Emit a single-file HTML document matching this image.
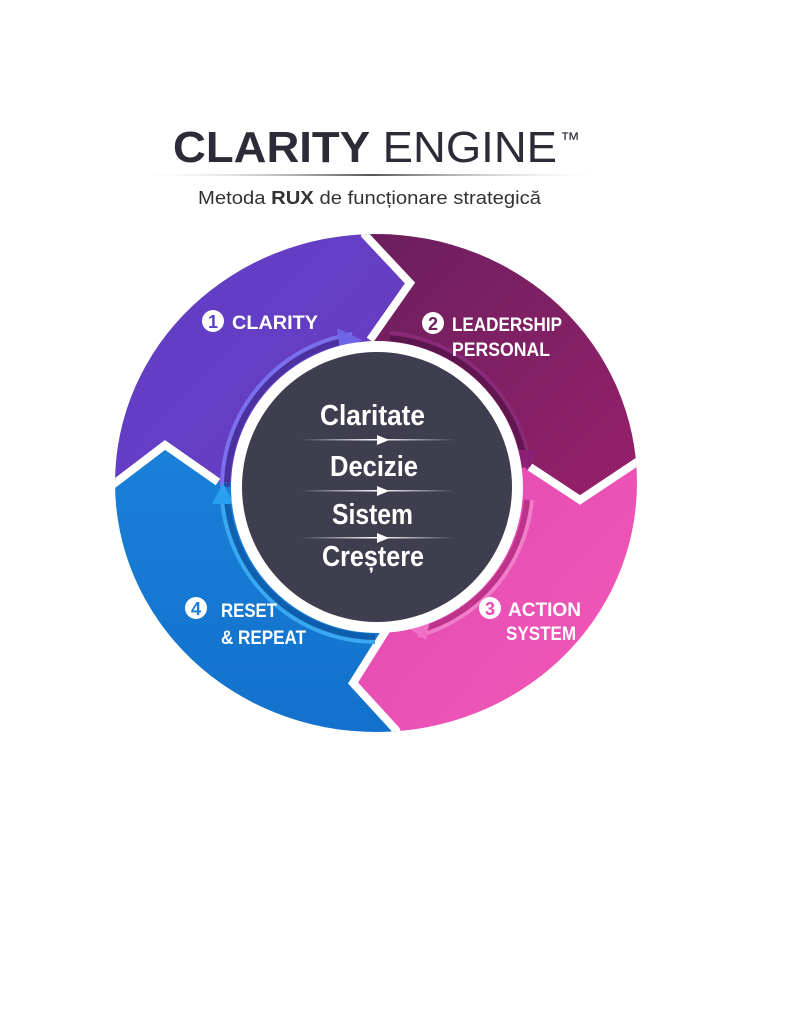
<!DOCTYPE html>
<html><head><meta charset="utf-8"><style>
html,body{margin:0;padding:0;background:#fff;}
svg{display:block;}
</style></head><body>
<svg width="791" height="1024" viewBox="0 0 791 1024" xmlns="http://www.w3.org/2000/svg">
<defs>
<clipPath id="oc"><ellipse cx="376" cy="483" rx="261" ry="249"/></clipPath>
<linearGradient id="g1" x1="0" y1="0" x2="1" y2="1"><stop offset="0" stop-color="#5b40c9"/><stop offset="1" stop-color="#6a3cc0"/></linearGradient>
<linearGradient id="g2" x1="0" y1="0" x2="1" y2="1"><stop offset="0" stop-color="#5e1f5a"/><stop offset="1" stop-color="#a3206e"/></linearGradient>
<linearGradient id="g3" x1="0" y1="0" x2="1" y2="1"><stop offset="0" stop-color="#e048b0"/><stop offset="1" stop-color="#fb62bd"/></linearGradient>
<linearGradient id="g4" x1="0" y1="0" x2="0" y2="1"><stop offset="0" stop-color="#1a80d8"/><stop offset="1" stop-color="#0d68c4"/></linearGradient>
<linearGradient id="ln" x1="0" x2="1"><stop offset="0" stop-color="#fff" stop-opacity="0"/><stop offset="0.5" stop-color="#555"/><stop offset="1" stop-color="#fff" stop-opacity="0"/></linearGradient>
<linearGradient id="wl" x1="0" x2="1"><stop offset="0" stop-color="#fff" stop-opacity="0"/><stop offset="0.5" stop-color="#fff"/><stop offset="1" stop-color="#fff" stop-opacity="0"/></linearGradient>
</defs>

<text x="173" y="162" font-family="Liberation Sans, sans-serif" font-size="44" fill="#2d2b38" textLength="384" lengthAdjust="spacingAndGlyphs"><tspan font-weight="bold">CLARITY</tspan> ENGINE</text>
<text x="560" y="146" font-family="Liberation Sans, sans-serif" font-size="20" fill="#2d2b38">™</text>
<rect x="130" y="174" width="482" height="2" fill="url(#ln)"/>
<text x="198" y="204" font-family="Liberation Sans, sans-serif" font-size="18" fill="#333" textLength="343" lengthAdjust="spacingAndGlyphs">Metoda <tspan font-weight="bold">RUX</tspan> de funcționare strategică</text>

<g clip-path="url(#oc)">
<polygon fill="url(#g1)" points="377,487 218,482 165,445 115,483 40,540 0,540 0,100 355,100 355,180 365,235 410,283 370,340"/>
<polygon fill="url(#g2)" points="377,487 370,340 410,283 365,235 355,180 355,100 791,100 791,420 700,420 637,462 580,500 530,467"/>
<polygon fill="url(#g3)" points="377,487 530,467 580,500 637,462 700,420 791,420 791,900 420,900 420,790 396,730 353,683 392,621"/>
<polygon fill="url(#g4)" points="377,487 392,621 353,683 396,730 420,790 420,900 0,900 0,540 40,540 115,483 165,445 218,482"/>
<g fill="none" stroke="#fff" stroke-width="8" stroke-linejoin="miter">
<polyline points="218,482 165,445 115,483 40,540"/>
<polyline points="370,340 410,283 365,235 355,180"/>
<polyline points="530,467 580,500 637,462 700,420"/>
<polyline points="392,621 353,683 396,730 420,790"/>
</g>
</g>

<!-- inner arcs -->
<g fill="none" stroke-width="10" opacity="0.6">
<path d="M225,487 A152,152 0 0 1 352,337" stroke="#3a2a8a"/>
<path d="M390,336 A152,152 0 0 1 526,458" stroke="#4a1040"/>
<path d="M529,500 A152,152 0 0 1 418,633" stroke="#a0206e"/>
<path d="M375,639 A152,152 0 0 1 225,500" stroke="#0a4f98"/>
</g>
<g fill="none" stroke-width="4">
<path d="M222,487 A155,155 0 0 1 352,334" stroke="#7a70ee"/>
<path d="M390,333 A155,155 0 0 1 529,458" stroke="#8a2a78"/>
<path d="M532,500 A155,155 0 0 1 418,636" stroke="#f27ccc"/>
<path d="M375,642 A155,155 0 0 1 222,500" stroke="#3aa8f0"/>
</g>
<polygon points="337,328 362,340 340,352" fill="#6f63e6"/>
<polygon points="514,450 538,450 527,470" fill="#8b1f74"/>
<polygon points="430,620 405,626 426,640" fill="#f070c8"/>
<polygon points="212,504 223,483 234,504" fill="#2aa0f0"/>

<circle cx="377" cy="487" r="146" fill="#fff"/>
<circle cx="377" cy="487" r="135" fill="#3f3e4f"/>

<g font-family="Liberation Sans Narrow, Liberation Sans, sans-serif" font-weight="bold" fill="#fff">
<text x="320" y="425" font-size="29" textLength="105" lengthAdjust="spacingAndGlyphs">Claritate</text>
<text x="330" y="476" font-size="29" textLength="88" lengthAdjust="spacingAndGlyphs">Decizie</text>
<text x="332" y="524" font-size="29" textLength="81" lengthAdjust="spacingAndGlyphs">Sistem</text>
<text x="322" y="566" font-size="29" textLength="102" lengthAdjust="spacingAndGlyphs">Creștere</text>
</g>
<rect x="300" y="439" width="155" height="1.5" fill="url(#wl)"/>
<rect x="300" y="490" width="155" height="1.5" fill="url(#wl)"/>
<rect x="300" y="537" width="155" height="1.5" fill="url(#wl)"/>
<polygon points="377,435 389,440 377,445" fill="#fff"/>
<polygon points="377,486 389,491 377,496" fill="#fff"/>
<polygon points="377,533 389,538 377,543" fill="#fff"/>

<g font-family="Liberation Sans Narrow, Liberation Sans, sans-serif" font-weight="bold" fill="#fff" font-size="19">
<circle cx="213" cy="321" r="11" fill="#fff"/><text x="213" y="328" font-size="18" fill="#5b40c9" text-anchor="middle">1</text>
<text x="232" y="329" textLength="86" lengthAdjust="spacingAndGlyphs">CLARITY</text>
<circle cx="433" cy="323" r="11" fill="#fff"/><text x="433" y="330" font-size="18" fill="#6b1f5e" text-anchor="middle">2</text>
<text x="452" y="331" textLength="110" lengthAdjust="spacingAndGlyphs">LEADERSHIP</text>
<text x="452" y="356" textLength="98" lengthAdjust="spacingAndGlyphs">PERSONAL</text>
<circle cx="490" cy="608" r="11" fill="#fff"/><text x="490" y="615" font-size="18" fill="#e84cb5" text-anchor="middle">3</text>
<text x="508" y="616" textLength="73" lengthAdjust="spacingAndGlyphs">ACTION</text>
<text x="506" y="640" textLength="70" lengthAdjust="spacingAndGlyphs">SYSTEM</text>
<circle cx="196" cy="608" r="11" fill="#fff"/><text x="196" y="615" font-size="18" fill="#1a7ad4" text-anchor="middle">4</text>
<text x="221" y="617" textLength="56" lengthAdjust="spacingAndGlyphs">RESET</text>
<text x="221" y="644" textLength="85" lengthAdjust="spacingAndGlyphs">&amp; REPEAT</text>
</g>
</svg>
</body></html>
